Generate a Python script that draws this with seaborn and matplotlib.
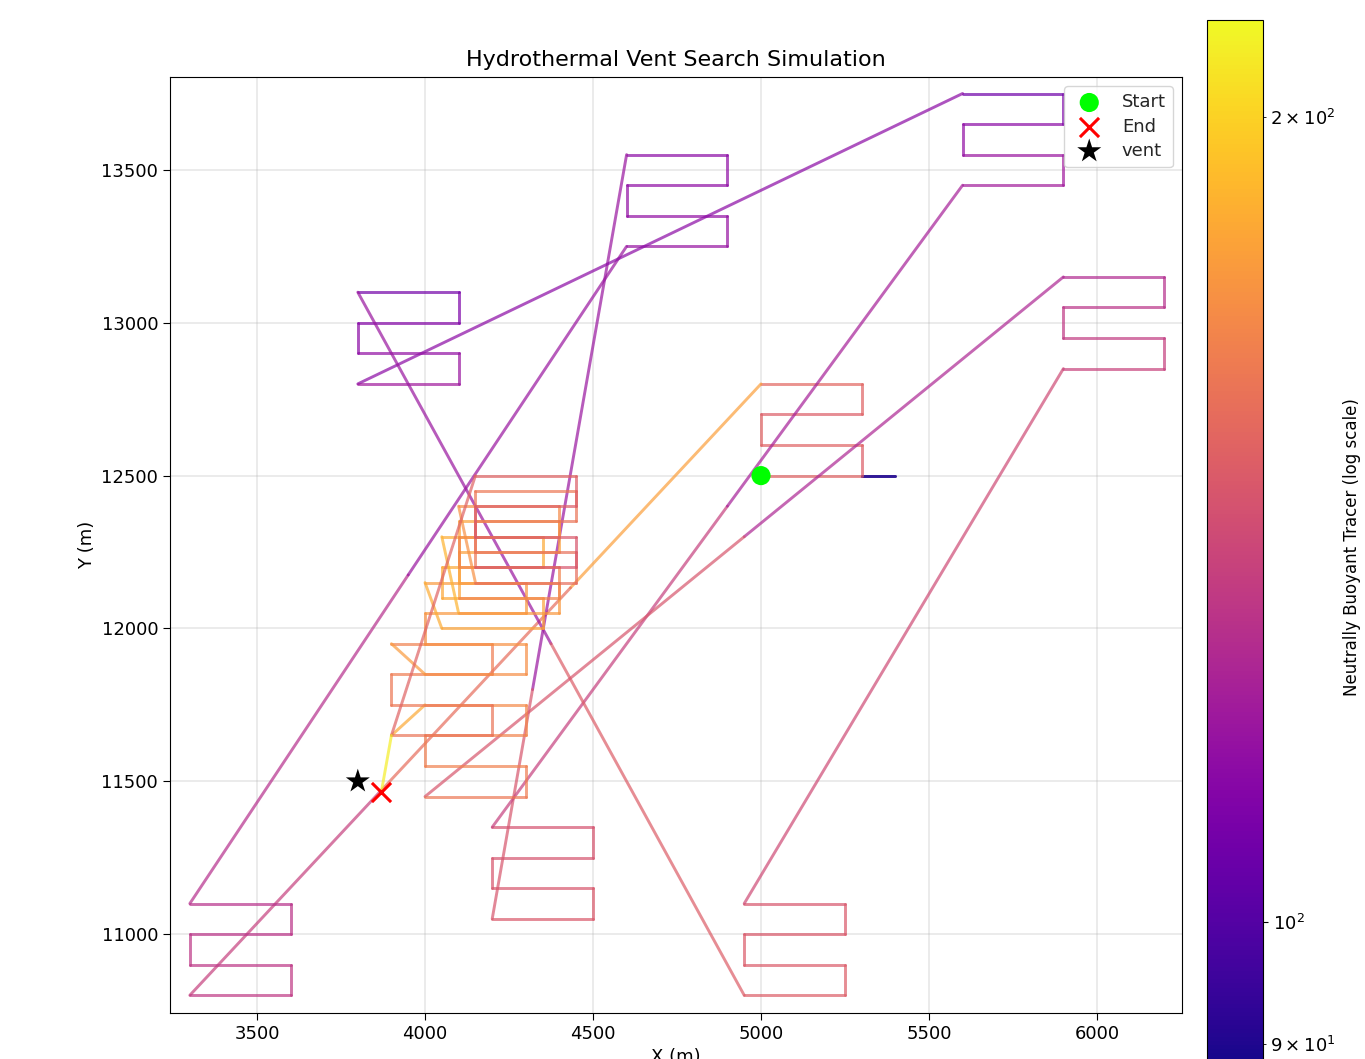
import numpy as np
import matplotlib
matplotlib.use("Agg")
import matplotlib.pyplot as plt
import seaborn as sns
from matplotlib.collections import LineCollection
from matplotlib.colors import LogNorm

# =============================
# 1. Trajeto do veículo (waypoints) e traçador por segmento
#    tracer[i] = valor do segmento que chega ao ponto i
# =============================
path_x = [
    5000, 5300, 5400, 5300,                              # partida
    5300, 5000, 5000, 5300, 5300, 5000,                  # bloco A
    4433, 3867, 3300,                                    # A -> F
    3600, 3600, 3300, 3300, 3600, 3600, 3300,            # bloco F
    3950, 4600,                                          # F -> C
    4900, 4900, 4600, 4600, 4900, 4900, 4600,            # bloco C
    4320, 4200,                                          # C -> H
    4500, 4500, 4200, 4200, 4500, 4500, 4200,            # bloco H
    4900, 5600,                                          # H -> B
    5900, 5900, 5600, 5600, 5900, 5900, 5600,            # bloco B
    3800,                                                # B -> D
    4100, 4100, 3800, 3800, 4100, 4100, 3800,            # bloco D
    4375, 4950,                                          # D -> G
    5250, 5250, 4950, 4950, 5250, 5250, 4950,            # bloco G
    5900,                                                # G -> E
    6200, 6200, 5900, 5900, 6200, 6200, 5900,            # bloco E
    4950, 4000,                                          # E -> cluster
    4300, 4300, 4000, 4000, 4300, 4300, 4000,            # K1
    3900, 4200, 4200, 3900, 3900, 4200, 4200, 3900,      # K2
    4000, 4300, 4300, 4000, 4000, 4300, 4300, 4000,      # K3
    4050, 4350, 4350, 4050, 4050, 4350, 4350, 4050,      # K4
    4100, 4400, 4400, 4100, 4100, 4400, 4400, 4100,      # K5
    4100, 4400, 4400, 4100, 4100, 4400, 4400, 4100,      # K6
    4150, 4450, 4450, 4150, 4150, 4450, 4450, 4150,      # K7
    4150, 4450, 4450, 4150, 4150, 4450, 4450, 4150,      # K8
    3900, 3870,                                          # aproximação final
]
path_y = [
    12500, 12500, 12500, 12500,
    12600, 12600, 12700, 12700, 12800, 12800,
    12133, 11467, 10800,
    10800, 10900, 10900, 11000, 11000, 11100, 11100,
    12175, 13250,
    13250, 13350, 13350, 13450, 13450, 13550, 13550,
    11800, 11050,
    11050, 11150, 11150, 11250, 11250, 11350, 11350,
    12400, 13450,
    13450, 13550, 13550, 13650, 13650, 13750, 13750,
    12800,
    12800, 12900, 12900, 13000, 13000, 13100, 13100,
    11950, 10800,
    10800, 10900, 10900, 11000, 11000, 11100, 11100,
    12850,
    12850, 12950, 12950, 13050, 13050, 13150, 13150,
    12300, 11450,
    11450, 11550, 11550, 11650, 11650, 11750, 11750,
    11650, 11650, 11750, 11750, 11850, 11850, 11950, 11950,
    11850, 11850, 11950, 11950, 12050, 12050, 12150, 12150,
    12000, 12000, 12100, 12100, 12200, 12200, 12300, 12300,
    12050, 12050, 12150, 12150, 12250, 12250, 12350, 12350,
    12100, 12100, 12200, 12200, 12300, 12300, 12400, 12400,
    12150, 12150, 12250, 12250, 12350, 12350, 12450, 12450,
    12200, 12200, 12300, 12300, 12400, 12400, 12500, 12500,
    11650, 11465,
]
tracer = [
    np.nan, 150, 90, 90,
    148, 150, 150, 148, 150, 152,
    178, 155, 135,
    132, 132, 131, 131, 130, 130, 129,
    128, 118,
    117, 117, 116, 116, 115, 115, 114,
    118, 145,
    146, 146, 145, 145, 144, 144, 143,
    135, 122,
    121, 120, 118, 116, 114, 110, 106,
    114,
    120, 118, 116, 114, 112, 110, 107,
    118, 148,
    148, 148, 147, 147, 146, 146, 145,
    140,
    136, 135, 133, 132, 130, 128, 126,
    125, 145,
    160, 162, 164, 163, 165, 166, 168,
    182, 158, 158, 160, 160, 162, 162, 164,
    176, 170, 170, 172, 172, 174, 174, 176,
    184, 180, 180, 181, 181, 182, 182, 184,
    186, 175, 175, 176, 176, 178, 178, 180,
    180, 165, 165, 166, 166, 168, 168, 170,
    172, 155, 155, 156, 156, 158, 158, 160,
    160, 145, 145, 146, 146, 148, 148, 150,
    150, 212,
]

start_xy = (5000, 12500)
end_xy = (3870, 11465)
vent_xy = (3800, 11500)

tracer_min, tracer_max = 87.7, 217.4

# =============================
# 2. Figura
# =============================
sns.set_style("ticks")
W, H = 1365, 1059
fig = plt.figure(figsize=(W / 100, H / 100), dpi=100)
ax = fig.add_axes([170 / W, (H - 1013) / H, 1012 / W, 936 / H])
cax = fig.add_axes([1207 / W, -15 / H, 56 / W, (H - 20 + 15) / H])

cmap = sns.color_palette("plasma", as_cmap=True)
norm = LogNorm(vmin=tracer_min, vmax=tracer_max)

pts = np.column_stack([path_x, path_y]).astype(float)
segs = np.stack([pts[:-1], pts[1:]], axis=1)
lc = LineCollection(segs, cmap=cmap, norm=norm, linewidths=2.1, alpha=0.7,
                    capstyle="round", joinstyle="round")
lc.set_array(np.array(tracer[1:], dtype=float))
ax.add_collection(lc)

sns.scatterplot(x=[start_xy[0]], y=[start_xy[1]], color="#00ff00", marker="o",
                s=190, edgecolor="none", label="Start", ax=ax, zorder=5)
sns.scatterplot(x=[end_xy[0]], y=[end_xy[1]], color="red", marker="x",
                s=190, linewidth=2.2, label="End", ax=ax, zorder=5)
sns.scatterplot(x=[vent_xy[0]], y=[vent_xy[1]], color="black", marker="*",
                s=330, edgecolor="none", label="vent", ax=ax, zorder=5)

ax.set_xlim(3241, 6253)
ax.set_ylim(10742, 13804)
ax.set_xticks([3500, 4000, 4500, 5000, 5500, 6000])
ax.set_yticks([11000, 11500, 12000, 12500, 13000, 13500])
ax.tick_params(labelsize=13, colors="black", length=5)
for sp in ax.spines.values():
    sp.set_color("black")
ax.grid(True, color="#b0b0b0", alpha=0.3, linewidth=1.2)
ax.set_title("Hydrothermal Vent Search Simulation", fontsize=16, pad=8,
             color="black")
ax.set_xlabel("X (m)", fontsize=13, color="black")
ax.set_ylabel("Y (m)", fontsize=13, color="black")
leg = ax.legend(loc="upper right", fontsize=13, framealpha=0.8,
                borderaxespad=0.5, labelspacing=0.35, handletextpad=0.8)

cbar = fig.colorbar(plt.cm.ScalarMappable(norm=norm, cmap=cmap), cax=cax)
cbar.ax.tick_params(which="both", labelsize=13, colors="black")
cbar.outline.set_edgecolor("black")
cbar.set_label("Neutrally Buoyant Tracer (log scale)", fontsize=12,
               color="black", labelpad=5)

fig.savefig("out.png", dpi=100)
